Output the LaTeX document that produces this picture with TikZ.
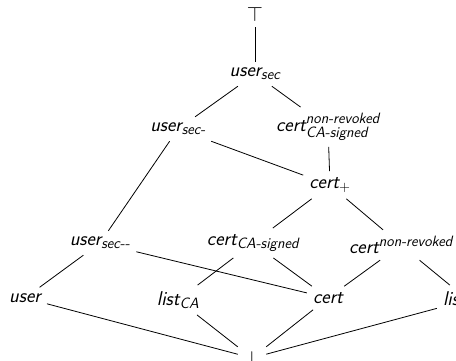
\documentclass[tikz,border=0pt]{standalone}
\usepackage{amsmath}
\usepackage{fontspec}
\usetikzlibrary{positioning}
\DeclareMathSizes{20}{20}{15}{11}

\begin{document}
\begin{tikzpicture}[x=1bp,y=-1bp,
  elt/.style={font=\fontsize{20}{22}\selectfont\sffamily\slshape,inner sep=6bp},
  ord/.style={line width=0.8bp}]
  \useasboundingbox (0,0) rectangle (456,360);
  \clip (0,0) rectangle (456,360);
  % elements of the lattice
  \node[elt] (top) at (255,14) {$\top$};
  \node[elt] (usec) at (255,74) {user$_{\text{sec}}$};
  \node[elt] (usecm) at (178,129) {user$_{\text{sec-}}$};
  \node[elt] (cnrca) at (328,127) {cert$^{\text{non-revoked}}_{\text{CA-signed}}$};
  \node[elt] (cplus) at (330,185) {cert$_{+}$};
  \node[elt] (usecmm) at (100,243) {user$_{\text{sec-{}-}}$};
  \node[elt] (cca) at (253,243) {cert$_{\text{CA-signed}}$};
  \node[elt] (cnr) at (401,245) {cert$^{\text{non-revoked}}$};
  \node[elt] (user) at (25,298) {user};
  \node[elt] (lca) at (178,300) {list$_{\text{CA}}$};
  \node[elt] (cert) at (328,298) {cert};
  \node[elt] (lcrl) at (468,300) {list$_{\text{CRL}}$};
  \node[elt] (bot) at (252,358) {$\bot$};
  % order
  \draw[ord] (top) -- (usec);
  \draw[ord] (usec) -- (usecm);
  \draw[ord] (usec) -- (cnrca);
  \draw[ord] (usecm) -- (usecmm);
  \draw[ord] (usecm) -- (cplus);
  \draw[ord] (cnrca) -- (cplus);
  \draw[ord] (cplus) -- (cca);
  \draw[ord] (cplus) -- (cnr);
  \draw[ord] (usecmm) -- (user);
  \draw[ord] (usecmm) -- (cert);
  \draw[ord] (cca) -- (lca);
  \draw[ord] (cca) -- (cert);
  \draw[ord] (cnr) -- (cert);
  \draw[ord] (cnr) -- (lcrl);
  \draw[ord] (user) -- (bot);
  \draw[ord] (lca) -- (bot);
  \draw[ord] (cert) -- (bot);
  \draw[ord] (lcrl) -- (bot);
\end{tikzpicture}
\end{document}
